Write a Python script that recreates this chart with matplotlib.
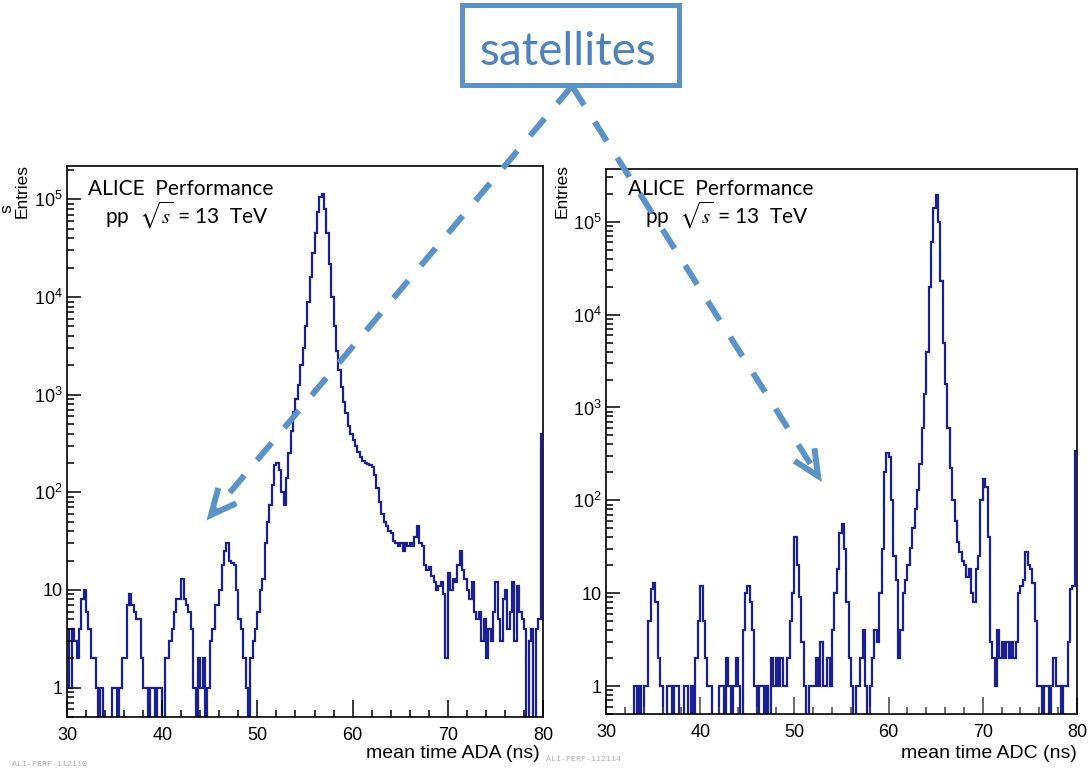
import numpy as np
import matplotlib
matplotlib.use("Agg")
import matplotlib.pyplot as plt
from matplotlib.patches import Rectangle
from matplotlib.ticker import (FixedLocator, FixedFormatter, MultipleLocator,
                               LogLocator, NullFormatter)

plt.rcParams['font.family'] = 'Liberation Sans'
plt.rcParams['mathtext.fontset'] = 'custom'
plt.rcParams['mathtext.rm'] = 'Liberation Sans'
plt.rcParams['mathtext.it'] = 'Liberation Sans:italic'

# mean time bins (ns), 0.25 ns wide
edges = np.arange(30.0, 80.0 + 0.125, 0.25)

# V0A side (ADA) counts per bin, four bins per ns
ada_counts = [
    4, 1, 4, 3,  2, 4, 8, 10,  6, 4, 2, 2,  1, 0, 1, 0,  0, 0, 0, 1,        # 30-34
    1, 0, 1, 2,  2, 7, 9, 7,  6, 5, 5, 2,  1, 1, 0, 1,  1, 0, 1, 1,        # 35-39
    0, 2, 2, 3,  4, 6, 8, 8,  13, 8, 7, 6,  4, 1, 0, 2,  1, 2, 0, 1,       # 40-44
    3, 4, 7, 7,  10, 18, 25, 30,  20, 19, 18, 10,  5, 4, 2, 1,  0, 2, 3, 4,  # 45-49
    6, 10, 13, 30,  50, 75, 120, 190,  200, 170, 100, 75,
    140, 250, 420, 660,  900, 1250, 2000, 3000,                            # 50-54
    5000, 9000, 16000, 28000,  45000, 75000, 105000, 115000,
    80000, 45000, 22000, 10000,  5000, 2800, 1800, 1200,
    850, 650, 480, 400,                                                    # 55-59
    340, 300, 260, 230,  210, 200, 195, 190,  180, 150, 110, 80,
    60, 50, 45, 40,  38, 32, 30, 28,                                       # 60-64
    30, 25, 30, 28,  30, 28, 35, 45,  30, 28, 18, 16,  17, 14, 12, 10,
    11, 12, 9, 2,                                                          # 65-69
    15, 10, 13, 12,  18, 25, 16, 13,  10, 8, 12, 6,  5, 6, 3, 5,
    2, 4, 3, 6,                                                            # 70-74
    12, 5, 3, 8,  10, 4, 6, 12,  3, 11, 6, 5,  4, 0, 3, 4,
    0, 4, 5, 400,                                                          # 75-79
]

# V0C side (ADC) counts per bin, four bins per ns
adc_counts = [
    0, 0, 0, 0,  0, 0, 0, 0,  0, 0, 0, 0,  1, 0, 1, 0,  1, 1, 5, 11,       # 30-34
    13, 8, 2, 1,  0, 0, 1, 1,  0, 1, 1, 0,  0, 1, 1, 0,  1, 0, 2, 5,       # 35-39
    12, 5, 2, 1,  1, 0, 0, 0,  1, 1, 0, 2,  1, 0, 1, 2,  1, 0, 4, 10,      # 40-44
    12, 8, 4, 1,  0, 1, 1, 0,  1, 0, 2, 1,  2, 1, 2, 1,  1, 2, 5, 10,      # 45-49
    40, 20, 9, 3,  1, 0, 1, 1,  1, 2, 1, 3,  1, 1, 2, 1,  4, 10, 18, 45,   # 50-54
    55, 30, 8, 2,  1, 0, 1, 1,  2, 4, 1, 0,  1, 2, 4, 3,  10, 30, 200, 320,  # 55-59
    290, 100, 25, 14,  2, 4, 10, 14,  20, 31, 50, 80,
    130, 245, 600, 1400,  4000, 20000, 60000, 140000,                      # 60-64
    195000, 100000, 23000, 5000,  1800, 600, 225, 100,  60, 36, 28, 22,
    20, 15, 18, 10,  8, 18, 25, 100,                                       # 65-69
    170, 140, 40, 3,  2, 1, 4, 2,  3, 2, 3, 2,  3, 2, 3, 10,
    12, 14, 28, 20,                                                        # 70-74
    18, 13, 5, 1,  1, 0, 1, 1,  0, 1, 2, 1,  1, 0, 1, 1,
    3, 11, 12, 340,                                                        # 75-79
]

decades = [1, 10, 100, 1e3, 1e4, 1e5]
decade_labels = ['1', '10', '$10^{2}$', '$10^{3}$', '$10^{4}$', '$10^{5}$']

HIST = '#1a1f96'
NOTE = '#5b93c8'

W, H = 1088, 769
fig = plt.figure(figsize=(W / 100, H / 100), dpi=100)


def px_box(x0, y0, x1, y1):
    return [x0 / W, 1 - y1 / H, (x1 - x0) / W, (y1 - y0) / H]


def draw_panel(ax, counts, ymax, xlabel, xlab_right, tick_color):
    vals = np.asarray(counts, dtype=float)
    vals = np.where(vals > 0, vals, 0.05)  # empty bins fall below the frame
    ax.stairs(vals, edges, color=HIST, lw=1.6, baseline=None)
    ax.set_yscale('log')
    ax.set_xlim(30, 80)
    ax.set_ylim(0.5, ymax)
    ax.xaxis.set_major_locator(MultipleLocator(10))
    ax.xaxis.set_minor_locator(MultipleLocator(2))
    ax.yaxis.set_major_locator(FixedLocator(decades))
    ax.yaxis.set_major_formatter(FixedFormatter(decade_labels))
    ax.yaxis.set_minor_locator(LogLocator(base=10, subs=np.arange(2, 10)))
    ax.yaxis.set_minor_formatter(NullFormatter())
    ax.tick_params(which='both', direction='in', top=False, right=False,
                   labelsize=13, width=1.1)
    ax.tick_params(axis='x', which='both', color=tick_color)
    ax.tick_params(axis='x', which='major', length=12, pad=7)
    ax.tick_params(axis='x', which='minor', length=5)
    ax.tick_params(axis='y', which='major', length=10, pad=3)
    ax.tick_params(axis='y', which='minor', length=5)
    for s in ax.spines.values():
        s.set_linewidth(1.2)
    fig.text(xlab_right / W, 1 - 758 / H, xlabel, ha='right',
             va='baseline', fontsize=14)


axL = fig.add_axes(px_box(67, 166, 543, 717))
axR = fig.add_axes(px_box(606, 169, 1077, 714))
draw_panel(axL, ada_counts, 2.2e5, 'mean time ADA (ns)', 540, 'black')
draw_panel(axR, adc_counts, 3.7e5, 'mean time ADC (ns)', 1077, '#444444')

for xc in (22, 562):
    fig.text(xc / W, 1 - 191 / H, 'Entries', rotation=90, ha='center',
             va='center', fontsize=12.5)
fig.text(7 / W, 1 - 209 / H, 's', rotation=90, ha='center', va='center',
         fontsize=12.5)

for x_alice, x_pp in ((88, 105), (628, 645)):
    fig.text(x_alice / W, 1 - 195 / H, 'ALICE  Performance', family='Lato',
             fontsize=15, va='baseline')
    fig.text(x_pp / W, 1 - 224 / H, r'pp  $\sqrt{s}$ = 13  TeV',
             family='Lato', fontsize=15, va='baseline', math_fontfamily='stix')

fig.text(12 / W, 1 - 766 / H, 'ALI-PERF-112110', family='Liberation Mono',
         fontsize=6, color='#b0b0b0', va='baseline')
fig.text(546 / W, 1 - 761 / H, 'ALI-PERF-112114', family='Liberation Mono',
         fontsize=6, color='#b0b0b0', va='baseline')

# call-out box and dashed arrows, drawn in pixel coordinates
ov = fig.add_axes([0, 0, 1, 1])
ov.set_xlim(0, W)
ov.set_ylim(H, 0)
ov.axis('off')
ov.set_zorder(5)

ov.add_patch(Rectangle((462, 5), 217, 80, fill=True, facecolor='white',
                       edgecolor=NOTE, lw=3.6))
ov.text(568, 65, 'satellites', family='Lato', fontsize=33, color='#4f81bd',
        ha='center', va='baseline')

apex = np.array([572.0, 86.0])
for tip in (np.array([211.0, 515.0]), np.array([818.0, 476.0])):
    ov.plot([apex[0], tip[0]], [apex[1], tip[1]], color=NOTE, lw=4.3,
            linestyle=(0, (3.8, 3.3)), dash_capstyle='butt')
    back = (apex - tip) / np.linalg.norm(apex - tip)
    arms = []
    for ang in (np.radians(25), -np.radians(25)):
        rot = np.array([[np.cos(ang), -np.sin(ang)], [np.sin(ang), np.cos(ang)]])
        arms.append(tip + 28 * rot @ back)
    ov.plot([arms[0][0], tip[0], arms[1][0]], [arms[0][1], tip[1], arms[1][1]],
            color=NOTE, lw=4.3, solid_joinstyle='miter', solid_capstyle='butt')

fig.savefig('out.png', dpi=100)
